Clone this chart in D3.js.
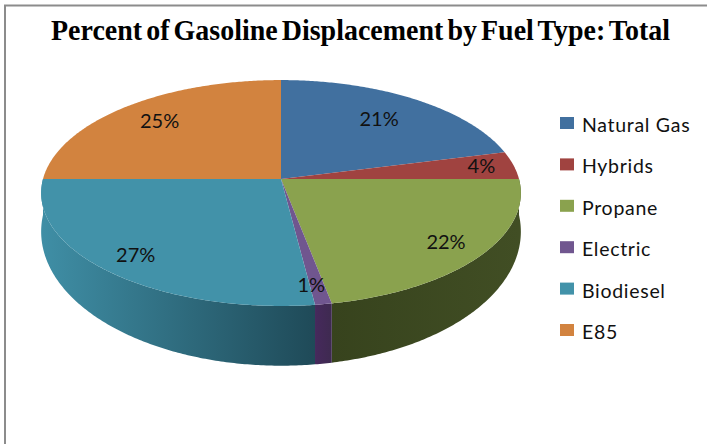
<!DOCTYPE html>
<html>
<head>
<meta charset="utf-8">
<script src="https://cdn.jsdelivr.net/npm/d3@7"></script>
<style>
  html, body { margin: 0; padding: 0; background: #fff; }
  svg { display: block; }
</style>
</head>
<body>
<svg id="chart" width="707" height="444"></svg>
<script>
var titleText = "Percent of Gasoline Displacement by Fuel Type: Total"
var categories = ["Natural Gas", "Hybrids", "Propane", "Electric", "Biodiesel", "E85"]
var percents = [21, 4, 22, 1, 27, 25]
var colors = ["#41709f", "#a04340", "#8aa24e", "#70568f", "#4292a9", "#d2833f"]
var wallLeft = ["#35607f", "#803533", "#37431d", "#46295c", "#3f8ea5", "#a86a30"]
var wallRight = ["#35607f", "#803533", "#414e24", "#3e2a50", "#1f4a58", "#a86a30"]
// how far along the radius each label sits, plus a nudge where the ray alone is not enough
var labelRadius = [0.72, 0.86, 0.84, 0.87, 0.85, 0.77]
var labelNudge = [0, 0, 0, -6, 0, 0]

var svg = d3.select("#chart")

var cx = 281, cy = 179, R = 238, k = 0.124
var topA = 111.2, bottomA = 132, depth = 36

// unit disc -> screen, with a bit of perspective (near edge is bigger)
function project(x, y, a, oy) {
  var w = 1 - k * y
  return [cx + R * x / w, cy + oy + a * y / w]
}

function rimPoints(a0, a1, a, oy) {
  var n = Math.max(2, Math.ceil((a1 - a0) / 0.01))
  return d3.range(n + 1).map(function(i) {
    var t = a0 + (a1 - a0) * i / n
    return project(Math.sin(t), -Math.cos(t), a, oy)
  })
}

var slices = d3.pie().sort(null)(percents)
var line = d3.line()
var defs = svg.append("defs")

svg.append("path")
  .attr("d", "M707,5.5H5V444")
  .attr("fill", "none")
  .attr("stroke", "#8c8c8c")
  .attr("stroke-width", 2)

// side wall, only the front half is visible
var front0 = Math.PI / 2, front1 = Math.PI * 1.5
slices.forEach(function(d, i) {
  var a0 = Math.max(d.startAngle, front0), a1 = Math.min(d.endAngle, front1)
  if (a1 <= a0) return
  var grad = defs.append("linearGradient")
    .attr("id", "wall" + i)
    .attr("gradientUnits", "userSpaceOnUse")
    .attr("x1", d3.min([project(Math.sin(a0), -Math.cos(a0), topA, 0)[0], project(Math.sin(a1), -Math.cos(a1), topA, 0)[0]]))
    .attr("x2", d3.max([project(Math.sin(a0), -Math.cos(a0), topA, 0)[0], project(Math.sin(a1), -Math.cos(a1), topA, 0)[0]]))
    .attr("y1", 0).attr("y2", 0)
  grad.append("stop").attr("offset", 0).attr("stop-color", wallLeft[i])
  grad.append("stop").attr("offset", 1).attr("stop-color", wallRight[i])

  var upper = rimPoints(a0, a1, topA, 0)
  var lower = rimPoints(a0, a1, bottomA, depth).reverse()
  svg.append("path")
    .attr("d", line(upper.concat(lower)) + "Z")
    .attr("fill", "url(#wall" + i + ")")
})

// top face
slices.forEach(function(d, i) {
  var pts = [project(0, 0, topA, 0)].concat(rimPoints(d.startAngle, d.endAngle, topA, 0))
  svg.append("path")
    .attr("d", line(pts) + "Z")
    .attr("fill", colors[i])
})

// data labels
slices.forEach(function(d, i) {
  var mid = (d.startAngle + d.endAngle) / 2
  var p = project(labelRadius[i] * Math.sin(mid), -labelRadius[i] * Math.cos(mid), topA, 0)
  svg.append("text")
    .attr("x", p[0] + labelNudge[i])
    .attr("y", p[1] + 6)
    .attr("text-anchor", "middle")
    .attr("font-family", "Lato, 'Open Sans', sans-serif")
    .attr("font-size", 20)
    .attr("fill", "#111")
    .text(d.data + "%")
})

// legend
var legendY = d3.scaleLinear().domain([0, 5]).range([123, 330])
var legend = svg.selectAll("g.legend")
  .data(categories)
  .enter().append("g")
    .attr("class", "legend")
    .attr("transform", function(d, i) { return "translate(560," + legendY(i) + ")" })

legend.append("rect")
  .attr("y", -6)
  .attr("width", 14)
  .attr("height", 12)
  .attr("fill", function(d, i) { return colors[i] })

legend.append("text")
  .attr("x", 22)
  .attr("y", 9)
  .attr("font-family", "Lato, 'Open Sans', sans-serif")
  .attr("font-size", 19.5)
  .attr("letter-spacing", 0.7)
  .attr("fill", "#111")
  .text(function(d) { return d })

svg.append("text")
  .attr("x", 51)
  .attr("y", 40)
  .attr("textLength", 619)
  .attr("lengthAdjust", "spacingAndGlyphs")
  .attr("font-family", "'Liberation Serif', serif")
  .attr("font-weight", "bold")
  .attr("font-size", 29)
  .attr("word-spacing", -3)
  .attr("fill", "#000")
  .text(titleText)
</script>
</body>
</html>
